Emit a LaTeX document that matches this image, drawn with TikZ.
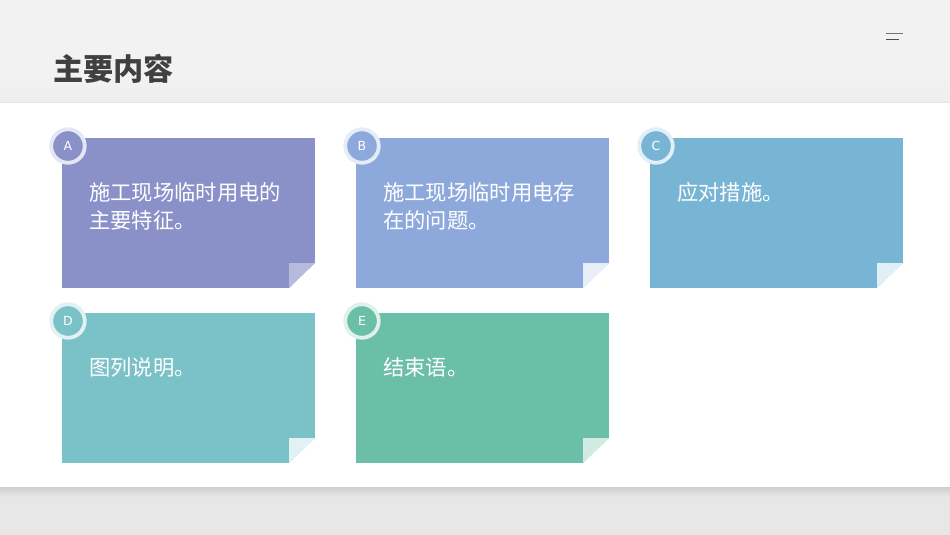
\documentclass[tikz,border=0pt]{standalone}
\usepackage{fontspec}
\usepackage{xcolor}
\usetikzlibrary{positioning,calc}
\setmainfont{DejaVu Sans}
\newfontfamily\cnfont{Noto Sans CJK SC}
\definecolor{cardA}{HTML}{8A90C8}
\definecolor{cardB}{HTML}{8DA9DC}
\definecolor{cardC}{HTML}{78B5D5}
\definecolor{cardD}{HTML}{7AC1C8}
\definecolor{cardE}{HTML}{6BBFA6}
\newcommand{\foldcorner}[2]{
  \fill[white] (#1.south east) -- ++(0,25) -- ++(-26,-25) -- cycle;
  \fill[#2] ($(#1.south east)+(0,25)$) -- ++(-26,0) -- ++(0,-25) -- cycle;
}
\begin{document}
\begin{tikzpicture} [
       x=1pt, y=1pt,
       card/.style={minimum width=253pt, minimum height=150pt, inner sep=0pt, outer sep=0pt},
       badge/.style={circle, minimum size=33.5pt, inner sep=0pt, line width=3.8pt, text=white,
               font=\fontsize{12.5}{13}\selectfont},
       texte/.style={anchor=north west, inner sep=0pt, align=left, text=white,
               font=\cnfont\fontsize{21.3}{28}\selectfont},
       node distance=25pt and 41pt,
       ]
       \useasboundingbox (0,0) rectangle (950,-535);
       % background
       \fill[white!95!black] (0,0) rectangle (950,-102);
       \fill[top color=white!95!black, bottom color=white!93.5!black] (0,-70) rectangle (950,-102);
       \fill[white!90.5!black] (0,-102) rectangle (950,-535);
       \fill[top color=white!81!black, bottom color=white!90.5!black] (0,-487) rectangle (950,-497);
       \fill[white] (0,-102) rectangle (950,-487);
       \draw[white!90!black, line width=0.5pt] (0,-102) -- (950,-102);
       \node (title) [anchor=west, inner sep=0pt, text=white!25!black,
               font=\cnfont\bfseries\fontsize{30.2}{30}\selectfont] at (53,-68.5) {主要内容};
       \draw[white!45!black, line width=1.2pt] (886,-33.7) -- (902.7,-33.7);
       \draw[white!30!black, line width=1.2pt] (886,-39.6) -- (899,-39.6);
       % cards
       \node (boxA) [card, fill=cardA, anchor=north west] at (62,-138) {};
       \node (boxB) [card, fill=cardB, right=of boxA] {};
       \node (boxC) [card, fill=cardC, right=of boxB] {};
       \node (boxD) [card, fill=cardD, below=of boxA] {};
       \node (boxE) [card, fill=cardE, right=of boxD] {};
       \foldcorner{boxA}{cardA!62!white}
       \foldcorner{boxB}{cardB!20!white}
       \foldcorner{boxC}{cardC!22!white}
       \foldcorner{boxD}{cardD!22!white}
       \foldcorner{boxE}{cardE!32!white}
       % badges
       \node (badgeA) [badge, draw=cardA!22!white, fill=cardA] at ($(boxA.north west)+(6,-8)$) {A};
       \node (badgeB) [badge, draw=cardB!22!white, fill=cardB] at ($(boxB.north west)+(6,-8)$) {B};
       \node (badgeC) [badge, draw=cardC!22!white, fill=cardC] at ($(boxC.north west)+(6,-8)$) {C};
       \node (badgeD) [badge, draw=cardD!22!white, fill=cardD] at ($(boxD.north west)+(6,-8)$) {D};
       \node (badgeE) [badge, draw=cardE!22!white, fill=cardE] at ($(boxE.north west)+(6,-8)$) {E};
       % texts
       \node (textA) [texte] at ($(boxA.north west)+(27,-44)$) {施工现场临时用电的\\主要特征。};
       \node (textB) [texte] at ($(boxB.north west)+(27,-44)$) {施工现场临时用电存\\在的问题。};
       \node (textC) [texte] at ($(boxC.north west)+(27,-44)$) {应对措施。};
       \node (textD) [texte] at ($(boxD.north west)+(27,-44)$) {图列说明。};
       \node (textE) [texte] at ($(boxE.north west)+(27,-44)$) {结束语。};
\end{tikzpicture}
\end{document}
